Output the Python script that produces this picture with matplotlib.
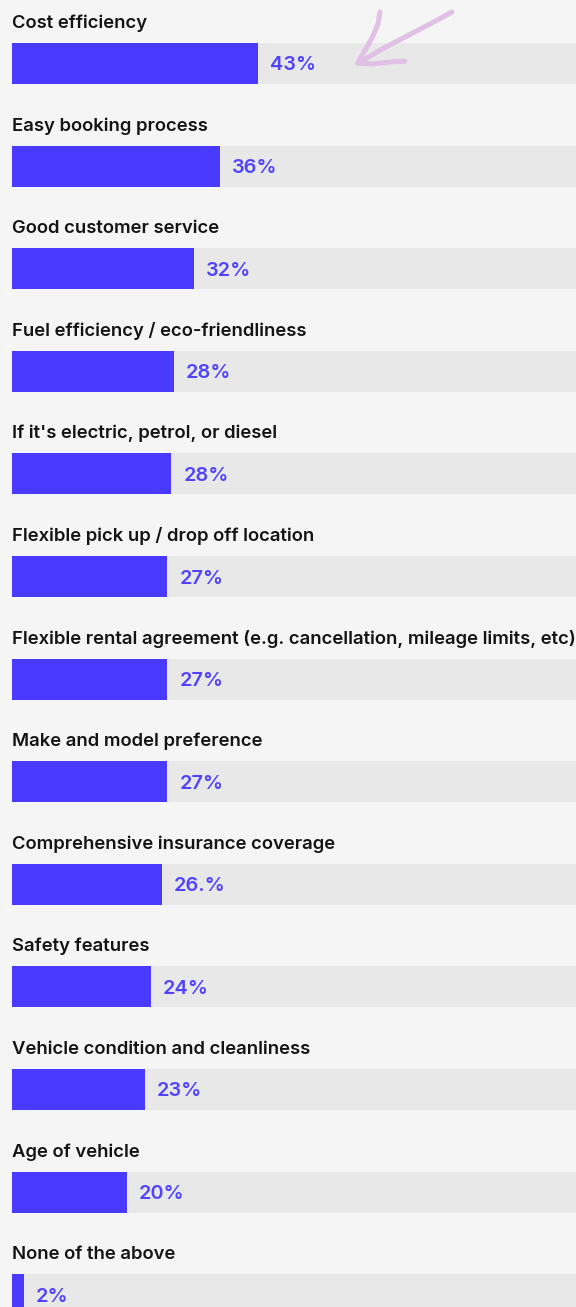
import matplotlib
matplotlib.use("Agg")
import matplotlib.pyplot as plt

categories = [
    "Cost efficiency",
    "Easy booking process",
    "Good customer service",
    "Fuel efficiency / eco-friendliness",
    "If it's electric, petrol, or diesel",
    "Flexible pick up / drop off location",
    "Flexible rental agreement (e.g. cancellation, mileage limits, etc)",
    "Make and model preference",
    "Comprehensive insurance coverage",
    "Safety features",
    "Vehicle condition and cleanliness",
    "Age of vehicle",
    "None of the above",
]
values = [42.8, 36.2, 31.7, 28.2, 27.7, 27.0, 27.0, 27.0, 26.1, 24.2, 23.1, 20.0, 2.1]
value_labels = ["43%", "36%", "32%", "28%", "28%", "27%", "27%", "27%", "26.%",
                "24%", "23%", "20%", "2%"]
track_max = 100

W, H, DPI = 576, 1307, 100
BG = "#f5f5f5"
TRACK = "#e8e8e8"
BAR = "#4a3aff"
VAL = "#5142ff"
TXT = "#141414"
ARROW = "#e0c0e4"

fam = ["Inter", "DejaVu Sans"]

fig = plt.figure(figsize=(W / DPI, H / DPI), dpi=DPI, facecolor=BG)
left_px = 12
px_per_unit = 5.75
row = 102.6
first_center = 63.5
ax = fig.add_axes([left_px / W, 0, 1 - left_px / W, 1])
ax.set_facecolor(BG)
ax.set_xlim(0, (W - left_px) / px_per_unit)
ax.set_ylim((H - first_center) / row, -first_center / row)
ax.axis("off")

ys = list(range(len(categories)))
bh = 41 / row
ax.barh(ys, [track_max] * len(ys), height=bh, color=TRACK, left=0, zorder=1)
ax.barh(ys, values, height=bh, color=BAR, zorder=2)

for y, cat, v, lab in zip(ys, categories, values, value_labels):
    ax.text(0, y - 35.5 / row, cat, fontsize=13.3, fontweight="semibold",
            family=fam, color=TXT, va="baseline", ha="left", zorder=3)
    ax.text(v + 12 / px_per_unit, y + 7 / row, lab, fontsize=14.3, fontweight="semibold",
            family=fam, color=VAL, va="baseline", ha="left", zorder=3)

# hand-drawn arrow decoration (pixel coordinates -> figure fraction)
def fx(p):
    return [(x / W, 1 - y / H) for x, y in p]

strokes = [
    [(452, 12), (430, 24), (405, 37), (382, 49), (362, 61)],
    [(380, 12), (378, 24), (372, 38), (364, 52), (358, 63)],
    [(358, 63), (372, 64), (390, 62), (405, 61)],
]
for s in strokes:
    pts = fx(s)
    fig.add_artist(plt.Line2D([p[0] for p in pts], [p[1] for p in pts],
                              color=ARROW, lw=3.6, solid_capstyle="round",
                              solid_joinstyle="round", transform=fig.transFigure))

fig.savefig("out.png", dpi=DPI, facecolor=BG)
